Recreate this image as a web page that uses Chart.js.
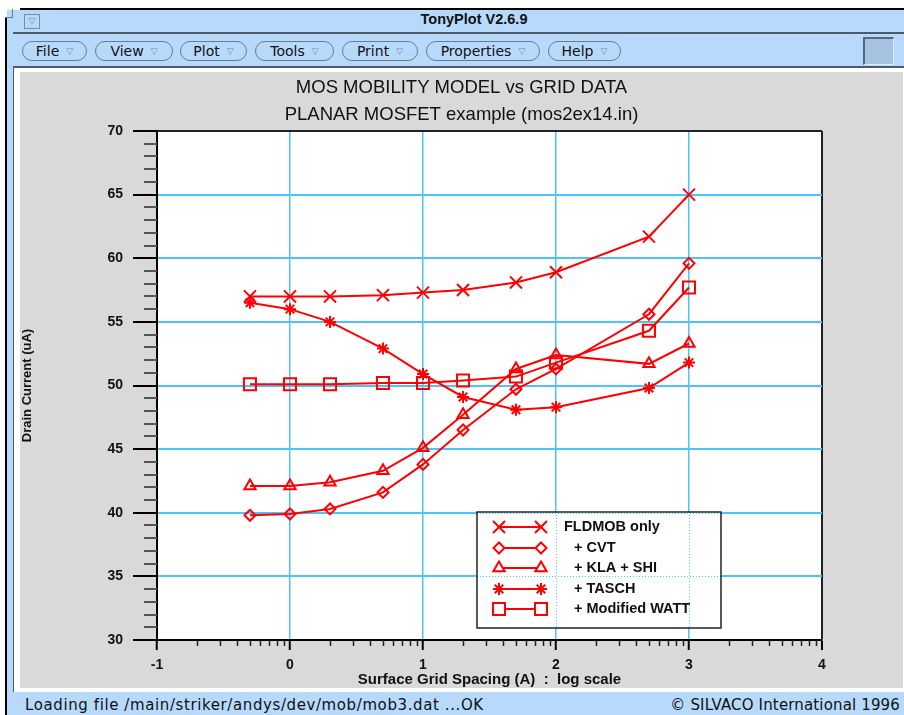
<!DOCTYPE html>
<html>
<head>
<meta charset="utf-8">
<title>TonyPlot V2.6.9</title>
<script src="https://cdn.jsdelivr.net/npm/chart.js@4.4.1/dist/chart.umd.min.js"></script>
<style>
  html, body { margin: 0; padding: 0; width: 904px; height: 715px; overflow: hidden; background: #fff; }
  body { position: relative; font-family: 'DejaVu Sans', sans-serif; }
  .abs { position: absolute; box-sizing: border-box; }
  .blue { background: #b7dafc; }
  .pill { position: absolute; top: 41px; height: 20px; border: 1px solid #6b7b8b; border-radius: 11px;
          display: flex; align-items: center; justify-content: center; font-size: 14px; color: #111; box-sizing: border-box; }
  .pill span { font-size: 9px; color: #7d8a98; margin-left: 7px; }
  #panel { left: 20px; top: 72px; width: 883px; height: 616px; background: #d9d9d9; }
  .status { top: 696px; font-size: 15px; color: #111; white-space: pre; }
</style>
</head>
<body>
<!-- window frame -->
<div class="abs blue" style="left:7px; top:10px; width:897px; height:705px;"></div>
<div class="abs" style="left:20px; top:8px; width:884px; height:2px; background:#000;"></div>
<div class="abs" style="left:5px; top:18px; width:2px; height:697px; background:#000;"></div>
<div class="abs" style="left:5px; top:17px; width:8px; height:1px; background:#6b7b8b;"></div>
<div class="abs" style="left:12px; top:9px; width:1px; height:9px; background:#6b7b8b;"></div>

<!-- title bar -->
<div class="abs" style="left:24px; top:14px; width:16px; height:15px; border:1px solid #7d8a98; font-size:9px; color:#7d8a98; text-align:center; line-height:13px;">&#9661;</div>
<div class="abs" style="left:374px; top:11px; width:200px; text-align:center; font:bold 14.5px 'Liberation Sans', sans-serif; color:#111;">TonyPlot V2.6.9</div>
<div class="abs" style="left:13px; top:32px; width:891px; height:2px; background:#4b5b6b;"></div>

<!-- menu bar -->
<div class="pill" style="left:22px; width:65px;">File<span>&#9661;</span></div>
<div class="pill" style="left:95px; width:78px;">View<span>&#9661;</span></div>
<div class="pill" style="left:180px; width:67px;">Plot<span>&#9661;</span></div>
<div class="pill" style="left:255px; width:79px;">Tools<span>&#9661;</span></div>
<div class="pill" style="left:342px; width:76px;">Print<span>&#9661;</span></div>
<div class="pill" style="left:426px; width:114px;">Properties<span>&#9661;</span></div>
<div class="pill" style="left:548px; width:73px;">Help<span>&#9661;</span></div>
<div class="abs" style="left:863px; top:37px; width:31px; height:28px; background:#a6c4e2; border-left:2px solid #56687a; border-top:2px solid #56687a; border-right:1px solid #dcedff; border-bottom:1px solid #dcedff;"></div>
<div class="abs" style="left:13px; top:66px; width:891px; height:2px; background:#4b5b6b;"></div>

<!-- client area -->
<div class="abs" style="left:13px; top:66px; width:1px; height:626px; background:#4b5b6b;"></div>
<div class="abs" style="left:14px; top:68px; width:890px; height:624px; background:#fff;"></div>
<div id="panel" class="abs"><canvas id="plot"></canvas></div>

<!-- status bar -->
<div class="abs status" style="left:25px; letter-spacing:0.6px;">Loading file /main/striker/andys/dev/mob/mob3.dat ...OK</div>
<div class="abs status" style="right:4px; letter-spacing:0.15px;">&#169; SILVACO International 1996</div>

<script>
// Surface grid spacing (A); plotted on a log axis
const spacing = [0.5, 1, 2, 5, 10, 20, 50, 100, 500, 1000];

// Drain current (uA) for each mobility model
const fldmobOnly = [57.0, 57.0, 57.0, 57.1, 57.3, 57.5, 58.1, 58.9, 61.7, 65.0];
const plusCvt    = [39.8, 39.9, 40.3, 41.6, 43.8, 46.5, 49.7, 51.3, 55.6, 59.6];
const plusKlaShi = [42.1, 42.1, 42.4, 43.3, 45.1, 47.7, 51.3, 52.4, 51.7, 53.3];
const plusTasch  = [56.5, 56.0, 55.0, 52.9, 50.9, 49.1, 48.1, 48.3, 49.8, 51.8];
const plusWatt   = [50.1, 50.1, 50.1, 50.2, 50.2, 50.4, 50.7, 51.8, 54.3, 57.7];

const seriesLabels = ['FLDMOB only', '+ CVT', '+ KLA + SHI', '+ TASCH', '+ Modified WATT'];

// axis ticks
const xDecades = [0.1, 1, 10, 100, 1000, 10000];
const yMin = 30, yMax = 70, yStep = 5;

const RED = '#ff0000';
const GRID = '#4cc4fb';
const FONT = "'Liberation Sans', Arial, sans-serif";

function series(label, values, style, radius) {
  return {
    label: label,
    data: spacing.map((s, i) => ({ x: s, y: values[i] })),
    borderColor: RED,
    backgroundColor: RED,
    borderWidth: 2,
    pointStyle: style,
    pointRadius: radius,
    pointBorderWidth: 2,
    pointBorderColor: RED,
    pointBackgroundColor: 'rgba(0,0,0,0)',
    tension: 0
  };
}

// white plotting field
const plotField = {
  id: 'plotField',
  beforeDraw(chart) {
    const { ctx, chartArea: a } = chart;
    ctx.save();
    ctx.fillStyle = '#fff';
    ctx.fillRect(a.left, a.top, a.right - a.left, a.bottom - a.top);
    ctx.restore();
  }
};

// minor tick marks outside the plot frame
const minorTicks = {
  id: 'minorTicks',
  afterDraw(chart) {
    const { ctx, chartArea: a, scales: { x, y } } = chart;
    ctx.save();
    ctx.lineWidth = 2;
    ctx.strokeStyle = '#555';
    ctx.beginPath();
    for (let v = yMin + 1; v < yMax; v++) {
      if (v % yStep === 0) continue;
      const py = Math.round(y.getPixelForValue(v));
      ctx.moveTo(a.left - 13, py);
      ctx.lineTo(a.left, py);
    }
    ctx.stroke();
    ctx.lineWidth = 1.5;
    ctx.strokeStyle = '#222';
    ctx.beginPath();
    for (let d = 0; d < xDecades.length - 1; d++) {
      for (let m = 2; m <= 9; m++) {
        const px = Math.round(x.getPixelForValue(xDecades[d] * m)) + 0.5;
        ctx.moveTo(px, a.bottom);
        ctx.lineTo(px, a.bottom + 6);
      }
    }
    ctx.stroke();
    ctx.restore();
  }
};

// boxed legend inside the plot, grid shows through dotted
const legendBox = {
  id: 'legendBox',
  afterDatasetsDraw(chart) {
    const { ctx, chartArea: a, scales: { x, y } } = chart;
    const left = a.left + 320, top = a.top + 381, w = 244, h = 116;
    ctx.save();
    ctx.fillStyle = '#fff';
    ctx.fillRect(left, top, w, h);
    ctx.strokeStyle = GRID;
    ctx.lineWidth = 1;
    ctx.setLineDash([1, 2]);
    ctx.beginPath();
    x.ticks.forEach(t => {
      const px = Math.round(x.getPixelForValue(t.value)) + 0.5;
      if (px > left && px < left + w) { ctx.moveTo(px, top); ctx.lineTo(px, top + h); }
    });
    y.ticks.forEach(t => {
      const py = Math.round(y.getPixelForValue(t.value)) + 0.5;
      if (py >= top && py < top + h) { ctx.moveTo(left, py); ctx.lineTo(left + w, py); }
    });
    ctx.stroke();
    ctx.setLineDash([]);
    ctx.strokeStyle = '#222';
    ctx.lineWidth = 1.5;
    ctx.strokeRect(left, top, w, h);

    chart.data.datasets.forEach((ds, i) => {
      const cy = Math.round(top + 15 + i * 20.5);
      const x1 = left + 22, x2 = left + 64;
      ctx.strokeStyle = RED;
      ctx.lineWidth = 2;
      ctx.beginPath();
      ctx.moveTo(x1, cy);
      ctx.lineTo(x2, cy);
      ctx.stroke();
      ctx.fillStyle = '#fff';
      const opt = { pointStyle: ds.pointStyle, radius: ds.pointRadius, borderWidth: 2, rotation: 0 };
      Chart.helpers.drawPoint(ctx, opt, x1, cy);
      Chart.helpers.drawPoint(ctx, opt, x2, cy);
      ctx.fillStyle = '#111';
      ctx.font = 'bold 14.5px ' + FONT;
      ctx.textBaseline = 'middle';
      ctx.fillText(ds.label, left + (ds.label.startsWith('+') ? 97 : 87), cy);
    });
    ctx.restore();
  }
};

Chart.defaults.font.family = FONT;
Chart.defaults.color = '#111';

new Chart(document.getElementById('plot'), {
  type: 'line',
  data: {
    datasets: [
      series(seriesLabels[0], fldmobOnly, 'crossRot', 8.5),
      series(seriesLabels[1], plusCvt, 'rectRot', 5.5),
      series(seriesLabels[2], plusKlaShi, 'triangle', 6.5),
      series(seriesLabels[3], plusTasch, 'star', 6),
      series(seriesLabels[4], plusWatt, 'rect', 8.5)
    ]
  },
  options: {
    responsive: true,
    maintainAspectRatio: false,
    animation: false,
    layout: { padding: 0 },
    plugins: {
      legend: { display: false },
      tooltip: { enabled: false },
      title: {
        display: true,
        text: 'MOS MOBILITY MODEL vs GRID DATA',
        color: '#111',
        font: { size: 18.5, weight: 'normal' },
        padding: { top: 5, bottom: 5 }
      },
      subtitle: {
        display: true,
        text: 'PLANAR MOSFET example (mos2ex14.in)',
        color: '#111',
        font: { size: 18.5, weight: 'normal' },
        padding: { top: 0, bottom: 4.6 }
      }
    },
    scales: {
      x: {
        type: 'logarithmic',
        min: xDecades[0],
        max: xDecades[xDecades.length - 1],
        afterBuildTicks: s => { s.ticks = xDecades.map(v => ({ value: v })); },
        afterFit: s => { s.height = 48; },
        border: { display: true, color: '#000', width: 2 },
        grid: {
          color: c => (c.tick && c.tick.value === xDecades[xDecades.length - 1]) ? '#222' : GRID,
          lineWidth: c => (c.tick && c.tick.value === xDecades[xDecades.length - 1]) ? 2 : 1.5,
          drawTicks: true,
          tickLength: 10,
          tickColor: '#000',
          tickWidth: 2
        },
        ticks: {
          autoSkip: false,
          maxRotation: 0,
          padding: 7,
          font: { size: 14, weight: 'bold' },
          callback: v => String(Math.round(Math.log10(v)))
        },
        title: {
          display: true,
          text: 'Surface Grid Spacing (A)  :  log scale',
          color: '#111',
          font: { size: 15, weight: 'bold' },
          padding: { top: 0, bottom: -1 }
        }
      },
      y: {
        min: yMin,
        max: yMax,
        afterFit: s => { s.width = 137; },
        border: { display: true, color: '#000', width: 2 },
        grid: {
          color: c => (c.tick && c.tick.value === yMax) ? '#222' : GRID,
          lineWidth: 2,
          drawTicks: true,
          tickLength: 24,
          tickColor: '#000',
          tickWidth: 2
        },
        ticks: {
          stepSize: yStep,
          padding: 10,
          font: { size: 14, weight: 'bold' }
        },
        title: {
          display: true,
          text: 'Drain Current (uA)',
          color: '#111',
          font: { size: 13, weight: 'bold' },
          padding: { top: 0, bottom: 0 }
        }
      },
      yRight: {
        position: 'right',
        display: true,
        afterFit: s => { s.width = 81; },
        grid: { display: false, drawTicks: false },
        border: { display: false },
        ticks: { display: false }
      }
    }
  },
  plugins: [plotField, minorTicks, legendBox]
});
</script>
</body>
</html>
